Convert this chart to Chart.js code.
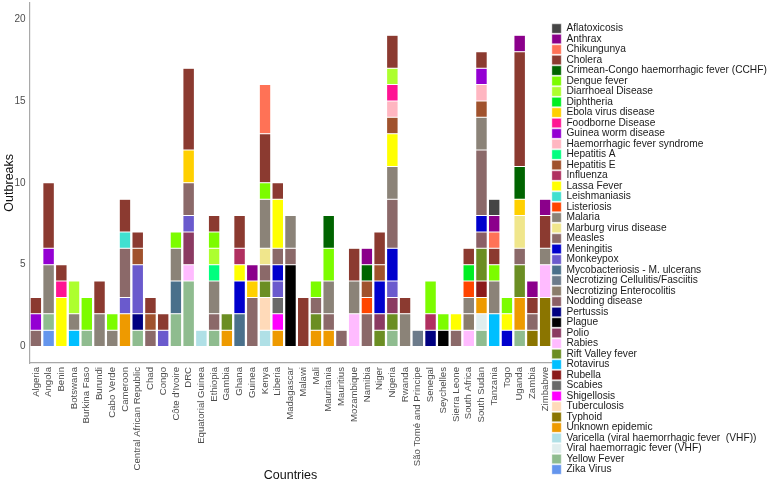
<!DOCTYPE html>
<html>
<head>
<meta charset="utf-8">
<script src="https://cdn.jsdelivr.net/npm/chart.js@4.4.1/dist/chart.umd.min.js"></script>
<style>
  html, body { margin: 0; padding: 0; background: #fff; }
</style>
</head>
<body>
<canvas id="chart" width="778" height="484"></canvas>
<script>
const countries = ['Algeria', 'Angola', 'Benin', 'Botswana', 'Burkina Faso', 'Burundi', 'Cabo Verde', 'Cameroon',
  'Central African Republic', 'Chad', 'Congo', "Côte d'Ivoire", 'DRC', 'Equatorial Guinea', 'Ethiopia', 'Gambia',
  'Ghana', 'Guinea', 'Kenya', 'Liberia', 'Madagascar', 'Malawi', 'Mali', 'Mauritania', 'Mauritius', 'Mozambique',
  'Namibia', 'Niger', 'Nigeria', 'Rwanda', 'São Tomé and Principe', 'Senegal', 'Seychelles', 'Sierra Leone',
  'South Africa', 'South Sudan', 'Tanzania', 'Togo', 'Uganda', 'Zambia', 'Zimbabwe'];

const diseases = ['Aflatoxicosis', 'Anthrax', 'Chikungunya', 'Cholera', 'Crimean-Congo haemorrhagic fever (CCHF)',
  'Dengue fever', 'Diarrhoeal Disease', 'Diphtheria', 'Ebola virus disease', 'Foodborne Disease', 'Guinea worm disease',
  'Haemorrhagic fever syndrome', 'Hepatitis A', 'Hepatitis E', 'Influenza', 'Lassa Fever', 'Leishmaniasis',
  'Listeriosis', 'Malaria', 'Marburg virus disease', 'Measles', 'Meningitis', 'Monkeypox',
  'Mycobacteriosis - M. ulcerans', 'Necrotizing Cellulitis/Fasciitis', 'Necrotizing Enterocolitis', 'Nodding disease',
  'Pertussis', 'Plague', 'Polio', 'Rabies', 'Rift Valley fever', 'Rotavirus', 'Rubella', 'Scabies', 'Shigellosis',
  'Tuberculosis', 'Typhoid', 'Unknown epidemic', 'Varicella (viral haemorrhagic fever  (VHF))',
  'Viral haemorragic fever (VHF)', 'Yellow Fever', 'Zika Virus'];

const colors = ['#454545', '#8B008B', '#FF7256', '#8B3A30', '#006400', '#7CFC00', '#ADFF2F', '#00EE22', '#FFD000',
  '#FF1493', '#9400D3', '#FFB6C1', '#00FF7F', '#A0522D', '#B03060', '#FFFF00', '#40E0D0', '#FF4500', '#8B8378',
  '#F0E68C', '#8B6969', '#0000CD', '#6A5ACD', '#4A708B', '#6C7B8B', '#8B7D6B', '#8B5F65', '#000080', '#000000',
  '#8B3A62', '#FFBBFF', '#6B8E23', '#00BFFF', '#8B1A1A', '#696969', '#FF00FF', '#FFDAB9', '#8B7500', '#EE9A00',
  '#B0E0E6', '#E0EEEE', '#8FBC8F', '#6495ED'];

// outbreaks per country, same order as countries
const aflatoxicosis = [0,0,0,0,0,0,0,0,0,0, 0,0,0,0,0,0,0,0,0,0, 0,0,0,0,0,0,0,0,0,0, 0,0,0,0,0,0,1,0,0,0,0];
const anthrax       = [0,0,0,0,0,0,0,0,0,0, 0,0,0,0,0,0,0,1,0,0, 0,0,0,0,0,0,1,0,0,0, 0,0,0,0,0,0,1,0,1,1,1];
const chikungunya   = [0,0,0,0,0,0,0,0,0,0, 0,0,0,0,0,0,0,0,3,0, 0,0,0,0,0,0,0,0,0,0, 0,0,0,0,0,0,1,0,0,0,0];
const cholera       = [1,4,1,0,0,2,0,2,1,1, 1,0,5,0,1,0,2,0,3,1, 0,3,0,0,0,2,0,2,2,1, 0,0,0,0,1,1,1,0,7,1,2];
const cchf          = [0,0,0,0,0,0,0,0,0,0, 0,0,0,0,0,0,0,0,0,0, 0,0,0,2,0,0,1,0,0,0, 0,0,0,0,0,0,0,0,2,0,0];
const dengue        = [0,0,0,0,2,0,1,0,0,0, 0,1,0,0,1,0,0,0,1,0, 0,0,1,2,0,0,0,0,0,0, 0,2,1,0,0,0,1,1,0,0,0];
const diarrhoeal    = [0,0,0,2,0,0,0,0,0,0, 0,0,0,0,1,0,0,0,0,0, 0,0,0,0,0,0,0,0,1,0, 0,0,0,0,0,0,0,0,0,0,0];
const diphtheria    = [0,0,0,0,0,0,0,0,0,0, 0,0,0,0,0,0,0,0,0,0, 0,0,0,0,0,0,0,0,0,0, 0,0,0,0,1,0,0,0,0,0,0];
const ebola         = [0,0,0,0,0,0,0,0,0,0, 0,0,2,0,0,0,0,1,0,0, 0,0,0,0,0,0,0,0,0,0, 0,0,0,0,0,0,0,0,1,0,0];
const foodborne     = [0,0,1,0,0,0,0,0,0,0, 0,0,0,0,0,0,0,0,0,0, 0,0,0,0,0,0,0,0,1,0, 0,0,0,0,0,0,0,0,0,0,0];
const guineaWorm    = [1,1,0,0,0,0,0,0,0,0, 0,0,0,0,0,0,0,0,0,0, 0,0,0,0,0,0,0,0,0,0, 0,0,0,0,0,1,0,0,0,0,0];
const hfSyndrome    = [0,0,0,0,0,0,0,0,0,0, 0,0,0,0,0,0,0,0,0,0, 0,0,0,0,0,0,0,0,1,0, 0,0,0,0,0,1,0,0,0,0,0];
const hepatitisA    = [0,0,0,0,0,0,0,0,0,0, 0,0,0,0,1,0,0,0,0,0, 0,0,0,0,0,0,0,0,0,0, 0,0,0,0,0,0,0,0,0,0,0];
const hepatitisE    = [0,0,0,0,0,0,0,0,1,1, 0,0,0,0,0,0,0,0,0,0, 0,0,0,0,0,0,1,1,1,0, 0,0,0,0,0,1,0,0,0,0,0];
const influenza     = [0,0,0,0,0,0,0,0,0,0, 0,0,0,0,0,0,1,0,0,0, 0,0,0,0,0,0,0,0,0,0, 0,1,0,0,0,0,0,0,0,0,0];
const lassa         = [0,0,3,0,0,0,0,0,0,0, 0,0,0,0,0,0,1,0,0,3, 0,0,0,0,0,0,0,0,2,0, 0,0,0,1,0,0,0,1,0,0,0];
const leishmaniasis = [0,0,0,0,0,0,0,1,0,0, 0,0,0,0,0,0,0,0,0,0, 0,0,0,0,0,0,0,0,0,0, 0,0,0,0,0,0,0,0,0,0,0];
const listeriosis   = [0,0,0,0,0,0,0,0,0,0, 0,0,0,0,0,0,0,0,0,0, 0,0,0,0,0,0,1,0,0,0, 0,0,0,0,1,0,0,0,0,0,0];
const malaria       = [0,3,0,1,0,2,1,0,0,0, 0,2,0,0,2,0,0,0,3,0, 2,0,0,2,0,2,0,0,2,2, 0,0,0,0,1,2,2,0,0,0,1];
const marburg       = [0,0,0,0,0,0,0,0,0,0, 0,0,0,0,0,0,0,0,1,0, 0,0,0,0,0,0,0,0,0,0, 0,0,0,0,0,0,0,0,2,0,0];
const measles       = [1,0,0,0,0,0,0,3,0,1, 0,0,2,0,1,0,0,3,1,1, 1,0,1,1,1,0,2,0,3,0, 0,0,0,1,0,4,0,0,1,1,0];
const meningitis    = [0,0,0,0,0,0,0,0,0,0, 0,0,0,0,0,0,2,0,0,1, 0,0,0,0,0,0,0,2,2,0, 0,0,0,0,0,1,0,1,0,0,0];
const monkeypox     = [0,0,0,0,0,0,0,1,3,0, 1,0,1,0,0,0,0,0,0,1, 0,0,0,0,0,0,0,0,1,0, 0,0,0,0,0,0,0,0,0,0,0];
const mycobacteriosis = [0,0,0,0,0,0,0,0,0,0, 0,2,0,0,0,0,2,0,0,0, 0,0,0,0,0,0,0,0,0,0, 0,0,0,0,0,0,0,0,0,0,0];
const necCellulitis = [0,0,0,0,0,0,0,0,0,0, 0,0,0,0,0,0,0,0,0,0, 0,0,0,0,0,0,0,0,0,0, 1,0,0,0,0,0,0,0,0,0,0];
const necEnterocolitis = [0,0,0,0,0,0,0,0,0,0, 0,0,0,0,0,0,0,0,0,0, 0,0,0,0,0,0,0,0,0,0, 0,0,0,0,1,0,0,0,0,0,0];
const nodding       = [0,0,0,0,0,0,0,0,0,0, 0,0,0,0,0,0,0,0,0,0, 0,0,0,0,0,0,0,0,0,0, 0,0,0,0,0,1,0,0,0,0,0];
const pertussis     = [0,0,0,0,0,0,0,0,1,0, 0,0,0,0,0,0,0,0,0,0, 0,0,0,0,0,0,0,0,0,0, 0,1,0,0,0,0,0,0,0,0,0];
const plague        = [0,0,0,0,0,0,0,0,0,0, 0,0,0,0,0,0,0,0,0,0, 5,0,0,0,0,0,0,0,0,0, 0,0,1,0,0,0,0,0,0,0,0];
const polio         = [0,0,0,0,0,0,0,0,0,0, 0,0,2,0,0,0,0,0,0,0, 0,0,0,0,0,0,0,1,1,0, 0,0,0,0,0,0,0,0,0,0,0];
const rabies        = [0,0,0,0,0,0,0,0,0,0, 0,0,1,0,0,0,0,0,0,0, 0,0,0,0,0,2,0,0,0,0, 0,0,0,0,1,0,0,0,0,0,2];
const riftValley    = [0,0,0,0,0,0,0,0,0,0, 0,0,0,0,0,1,0,0,1,0, 0,0,1,0,0,0,0,1,1,0, 0,0,0,0,0,2,0,0,2,0,0];
const rotavirus     = [0,0,0,1,0,0,0,0,0,0, 0,0,0,0,0,0,0,0,0,0, 0,0,0,0,0,0,0,0,0,0, 0,0,0,0,0,0,2,0,0,0,0];
const rubella       = [0,0,0,0,0,0,0,0,0,0, 0,0,0,0,0,0,0,0,0,0, 0,0,0,0,0,0,0,0,0,0, 0,0,0,0,0,1,0,0,0,0,0];
const scabies       = [0,0,0,0,0,0,0,0,0,0, 0,0,0,0,0,0,0,0,0,1, 0,0,0,0,0,0,0,0,0,0, 0,0,0,0,0,0,0,0,0,0,0];
const shigellosis   = [0,0,0,0,0,0,0,0,0,0, 0,0,0,0,0,0,0,0,0,1, 0,0,0,0,0,0,0,0,0,0, 0,0,0,0,0,0,0,0,0,0,0];
const tuberculosis  = [0,0,0,0,0,0,0,0,0,0, 0,0,0,0,0,0,0,0,2,0, 0,0,0,0,0,0,0,0,0,0, 0,0,0,0,0,0,0,0,0,0,0];
const typhoid       = [0,0,0,0,0,0,0,0,0,0, 0,0,0,0,0,0,0,0,0,0, 0,0,0,0,0,0,0,0,0,0, 0,0,0,0,0,0,0,0,0,1,3];
const unknown       = [0,0,0,0,0,0,0,2,0,0, 0,0,0,0,0,1,0,0,0,1, 0,0,1,1,0,0,0,0,0,0, 0,0,0,0,0,1,0,0,2,0,0];
const varicella     = [0,0,0,0,0,0,0,0,0,0, 0,0,0,1,0,0,0,0,1,0, 0,0,0,0,0,0,0,0,0,0, 0,0,0,0,0,0,0,0,0,0,0];
const vhf           = [0,0,0,0,0,0,0,0,0,0, 0,0,0,0,0,0,0,0,0,0, 0,0,0,0,0,0,0,0,0,0, 0,0,0,0,0,1,0,0,0,0,0];
const yellowFever   = [0,1,0,0,1,0,0,0,1,0, 0,2,4,0,1,0,0,0,0,0, 0,0,0,0,0,0,0,0,1,0, 0,0,0,0,0,1,0,0,1,0,0];
const zika          = [0,1,0,0,0,0,0,0,0,0, 0,0,0,0,0,0,0,0,0,0, 0,0,0,0,0,0,0,0,0,0, 0,0,0,0,0,0,0,0,0,0,0];

const series = [aflatoxicosis, anthrax, chikungunya, cholera, cchf, dengue, diarrhoeal, diphtheria, ebola,
  foodborne, guineaWorm, hfSyndrome, hepatitisA, hepatitisE, influenza, lassa, leishmaniasis, listeriosis,
  malaria, marburg, measles, meningitis, monkeypox, mycobacteriosis, necCellulitis, necEnterocolitis, nodding,
  pertussis, plague, polio, rabies, riftValley, rotavirus, rubella, scabies, shigellosis, tuberculosis, typhoid,
  unknown, varicella, vhf, yellowFever, zika];

const yTicks = [0, 5, 10, 15, 20];

Chart.defaults.font.family = "'Liberation Sans', Arial, sans-serif";

// ggplot stacks the first level on top, so feed the datasets bottom-up
const datasets = diseases.map((name, i) => ({
  label: name,
  data: series[i].map(v => v || null),
  backgroundColor: colors[i],
  borderColor: '#ffffff',
  borderWidth: 0.5,
  borderSkipped: false,
  categoryPercentage: 0.9,
  barPercentage: 1
})).reverse();

const axisLine = { display: true, color: '#a9a9a9', width: 1.2 };

new Chart(document.getElementById('chart'), {
  type: 'bar',
  data: { labels: countries, datasets: datasets },
  options: {
    responsive: false,
    animation: false,
    layout: { padding: { top: 2.6 } },
    scales: {
      x: {
        stacked: true,
        grid: { display: false, drawTicks: false },
        border: axisLine,
        ticks: { autoSkip: false, maxRotation: 90, minRotation: 90, padding: 4, color: '#4d4d4d', font: { size: 9.6 } },
        title: { display: true, text: 'Countries', color: '#111', font: { size: 12.5, lineHeight: 1 }, padding: { top: 0, bottom: 2.5 } },
        afterFit: (scale) => { scale.height = 121; scale.paddingRight = 226.5; }
      },
      y: {
        stacked: true,
        min: -1,
        max: 21,
        grid: { display: false, drawTicks: false },
        border: axisLine,
        ticks: { padding: 4, color: '#4d4d4d', font: { size: 10 } },
        afterBuildTicks: (scale) => { scale.ticks = yTicks.map(v => ({ value: v })); },
        title: { display: true, text: 'Outbreaks', color: '#111', font: { size: 12.5, lineHeight: 1 }, padding: { top: 3.5, bottom: 0 } },
        afterFit: (scale) => { scale.width = 29.5; scale.paddingTop = 0; scale.paddingBottom = 0; }
      }
    },
    plugins: {
      legend: {
        position: 'right',
        reverse: true,
        maxWidth: 216,
        title: { display: true, text: ' ', padding: 0, font: { size: 10, lineHeight: 1.15 } },
        labels: { boxWidth: 9.5, boxHeight: 9.5, padding: 0.3, color: '#1a1a1a', font: { size: 10.2 } }
      },
      tooltip: { enabled: false }
    }
  }
});
</script>
</body>
</html>
